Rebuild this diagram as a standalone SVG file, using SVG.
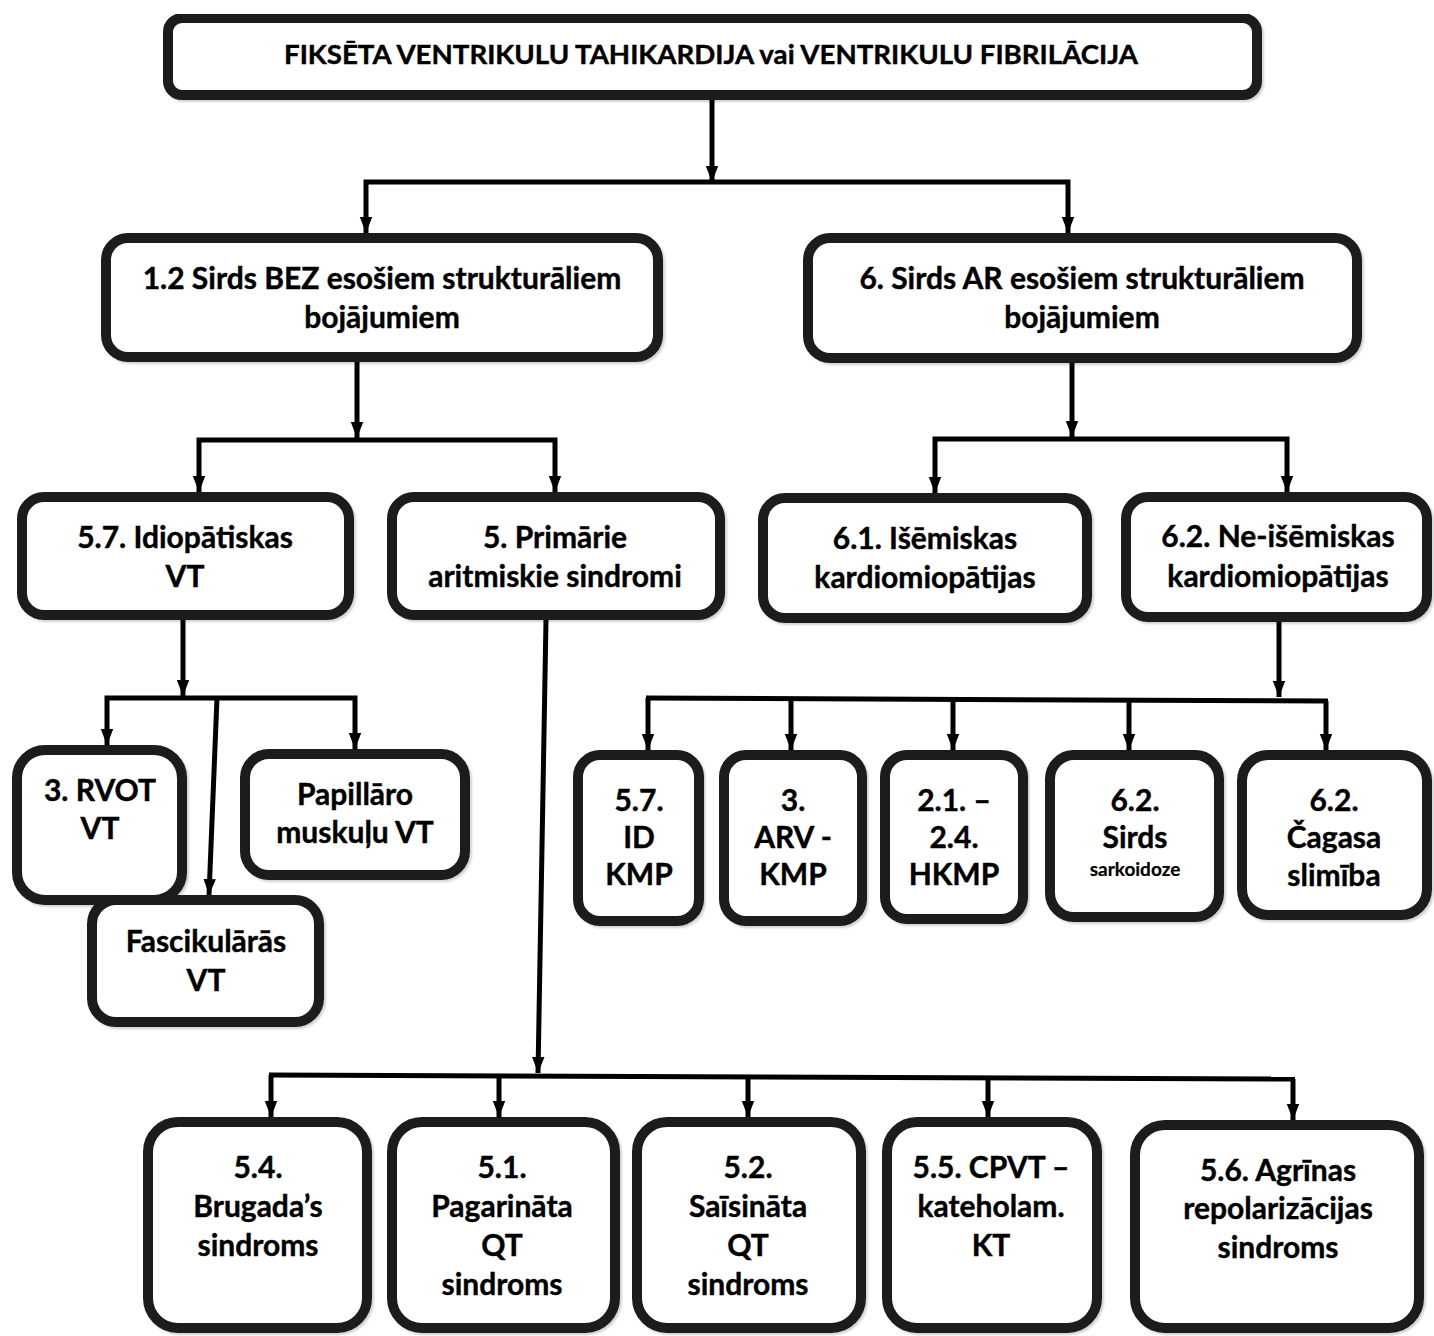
<svg xmlns="http://www.w3.org/2000/svg" width="1434" height="1336" viewBox="0 0 1434 1336">
<defs>
<marker id="ah" markerUnits="userSpaceOnUse" markerWidth="16" markerHeight="18" viewBox="0 0 18 14" refX="18" refY="7" orient="auto">
<path d="M0,0 L18,7 L0,14 z" fill="#000"/>
</marker>
<filter id="sh" x="-5%" y="-5%" width="110%" height="115%">
<feDropShadow dx="2" dy="2" stdDeviation="1" flood-color="#000" flood-opacity="0.18"/>
</filter>
</defs>
<style>
.box{fill:#fff;stroke:#1a1a1a;stroke-width:10;filter:url(#sh)}
.t{font-family:Lato,"Liberation Sans",sans-serif;font-weight:bold;font-size:30px;fill:#000;text-anchor:middle;stroke:#000;stroke-width:0.4}
.tt{font-size:26px}
.ts{font-size:19px;stroke-width:0.2}
.c{fill:none;stroke:#000;stroke-width:5}
.a{marker-end:url(#ah)}
</style>
<rect width="1434" height="1336" fill="#fff"/>
<g id="connectors">
<path class="c a" d="M712,100 V182"/>
<path class="c a" d="M712,182 H366 V233"/>
<path class="c a" d="M712,182 H1068 V233"/>
<path class="c a" d="M357,362 V438"/>
<path class="c a" d="M357,440 H199 V492"/>
<path class="c a" d="M357,440 H555 V492"/>
<path class="c a" d="M1072,363 V437"/>
<path class="c a" d="M1072,439 H935 V493"/>
<path class="c a" d="M1072,439 H1287 V492"/>
<path class="c a" d="M183,620 V696"/>
<path class="c a" d="M183,698 H107 V745"/>
<path class="c a" d="M183,698 H355 V749"/>
<path class="c a" d="M217,698 L209,895"/>
<path class="c a" d="M546,620 L538,1073"/>
<path class="c" d="M269,1075 L1295,1079"/>
<path class="c a" d="M271,1075 V1117"/>
<path class="c a" d="M499,1076 V1117"/>
<path class="c a" d="M748,1077 V1117"/>
<path class="c a" d="M988,1078 V1117"/>
<path class="c a" d="M1293,1079 V1120"/>
<path class="c a" d="M1279,622 V697"/>
<path class="c" d="M646,698 L1328,701"/>
<path class="c a" d="M648,698 V750"/>
<path class="c a" d="M791,699 V750"/>
<path class="c a" d="M953,699 V750"/>
<path class="c a" d="M1129,700 V750"/>
<path class="c a" d="M1326,701 V750"/>
</g>
<g id="n-top"><rect class="box" x="168" y="18" width="1089" height="77" rx="14"/>
<text class="t tt" x="711" y="64" textLength="854" lengthAdjust="spacingAndGlyphs">FIKSĒTA VENTRIKULU TAHIKARDIJA vai VENTRIKULU FIBRILĀCIJA</text></g>
<g id="n-bez"><rect class="box" x="106" y="238" width="552" height="119" rx="22"/>
<text class="t" x="382" y="289">1.2 Sirds BEZ esošiem strukturāliem</text>
<text class="t" x="382" y="328">bojājumiem</text></g>
<g id="n-ar"><rect class="box" x="808" y="238" width="549" height="120" rx="22"/>
<text class="t" x="1082" y="289">6. Sirds AR esošiem strukturāliem</text>
<text class="t" x="1082" y="328">bojājumiem</text></g>
<g id="n-idio"><rect class="box" x="22" y="497" width="327" height="118" rx="22"/>
<text class="t" x="185" y="548">5.7. Idiopātiskas</text>
<text class="t" x="185" y="587">VT</text></g>
<g id="n-prim"><rect class="box" x="392" y="497" width="328" height="118" rx="22"/>
<text class="t" x="555" y="548">5. Primārie</text>
<text class="t" x="555" y="587">aritmiskie sindromi</text></g>
<g id="n-isem"><rect class="box" x="763" y="498" width="324" height="120" rx="22"/>
<text class="t" x="925" y="549">6.1. Išēmiskas</text>
<text class="t" x="925" y="588">kardiomiopātijas</text></g>
<g id="n-neisem"><rect class="box" x="1126" y="497" width="301" height="120" rx="22"/>
<text class="t" x="1278" y="547">6.2. Ne-išēmiskas</text>
<text class="t" x="1278" y="587">kardiomiopātijas</text></g>
<g id="n-rvot"><rect class="box" x="17" y="750" width="165" height="150" rx="28"/>
<text class="t" x="100" y="801">3. RVOT</text>
<text class="t" x="100" y="839">VT</text></g>
<g id="n-papil"><rect class="box" x="245" y="754" width="220" height="121" rx="24"/>
<text class="t" x="355" y="805">Papillāro</text>
<text class="t" x="355" y="843">muskuļu VT</text></g>
<g id="n-fasc"><rect class="box" x="92" y="900" width="227" height="122" rx="24"/>
<text class="t" x="206" y="952">Fascikulārās</text>
<text class="t" x="206" y="991">VT</text></g>
<g id="n-idkmp"><rect class="box" x="578" y="755" width="121" height="166" rx="22"/>
<text class="t" x="639" y="811">5.7.</text>
<text class="t" x="639" y="848">ID</text>
<text class="t" x="639" y="885">KMP</text></g>
<g id="n-arvkmp"><rect class="box" x="724" y="755" width="138" height="166" rx="22"/>
<text class="t" x="793" y="811">3.</text>
<text class="t" x="793" y="848">ARV -</text>
<text class="t" x="793" y="885">KMP</text></g>
<g id="n-hkmp"><rect class="box" x="885" y="755" width="138" height="164" rx="22"/>
<text class="t" x="954" y="811">2.1. –</text>
<text class="t" x="954" y="848">2.4.</text>
<text class="t" x="954" y="885">HKMP</text></g>
<g id="n-sark"><rect class="box" x="1050" y="755" width="169" height="162" rx="24"/>
<text class="t" x="1135" y="811">6.2.</text>
<text class="t" x="1135" y="848">Sirds</text>
<text class="t ts" x="1135" y="876">sarkoidoze</text></g>
<g id="n-cagas"><rect class="box" x="1242" y="755" width="185" height="160" rx="26"/>
<text class="t" x="1334" y="811">6.2.</text>
<text class="t" x="1334" y="848">Čagasa</text>
<text class="t" x="1334" y="886">slimība</text></g>
<g id="n-brug"><rect class="box" x="148" y="1122" width="219" height="206" rx="30"/>
<text class="t" x="258" y="1178">5.4.</text>
<text class="t" x="258" y="1217">Brugada’s</text>
<text class="t" x="258" y="1256">sindroms</text></g>
<g id="n-lqt"><rect class="box" x="392" y="1122" width="223" height="206" rx="30"/>
<text class="t" x="502" y="1178">5.1.</text>
<text class="t" x="502" y="1217">Pagarināta</text>
<text class="t" x="502" y="1256">QT</text>
<text class="t" x="502" y="1295">sindroms</text></g>
<g id="n-sqt"><rect class="box" x="637" y="1122" width="224" height="206" rx="30"/>
<text class="t" x="748" y="1178">5.2.</text>
<text class="t" x="748" y="1217">Saīsināta</text>
<text class="t" x="748" y="1256">QT</text>
<text class="t" x="748" y="1295">sindroms</text></g>
<g id="n-cpvt"><rect class="box" x="887" y="1122" width="210" height="206" rx="30"/>
<text class="t" x="991" y="1178">5.5. CPVT –</text>
<text class="t" x="991" y="1217">kateholam.</text>
<text class="t" x="991" y="1256">KT</text></g>
<g id="n-erp"><rect class="box" x="1135" y="1125" width="284" height="203" rx="30"/>
<text class="t" x="1278" y="1181">5.6. Agrīnas</text>
<text class="t" x="1278" y="1219">repolarizācijas</text>
<text class="t" x="1278" y="1258">sindroms</text></g>
</svg>
